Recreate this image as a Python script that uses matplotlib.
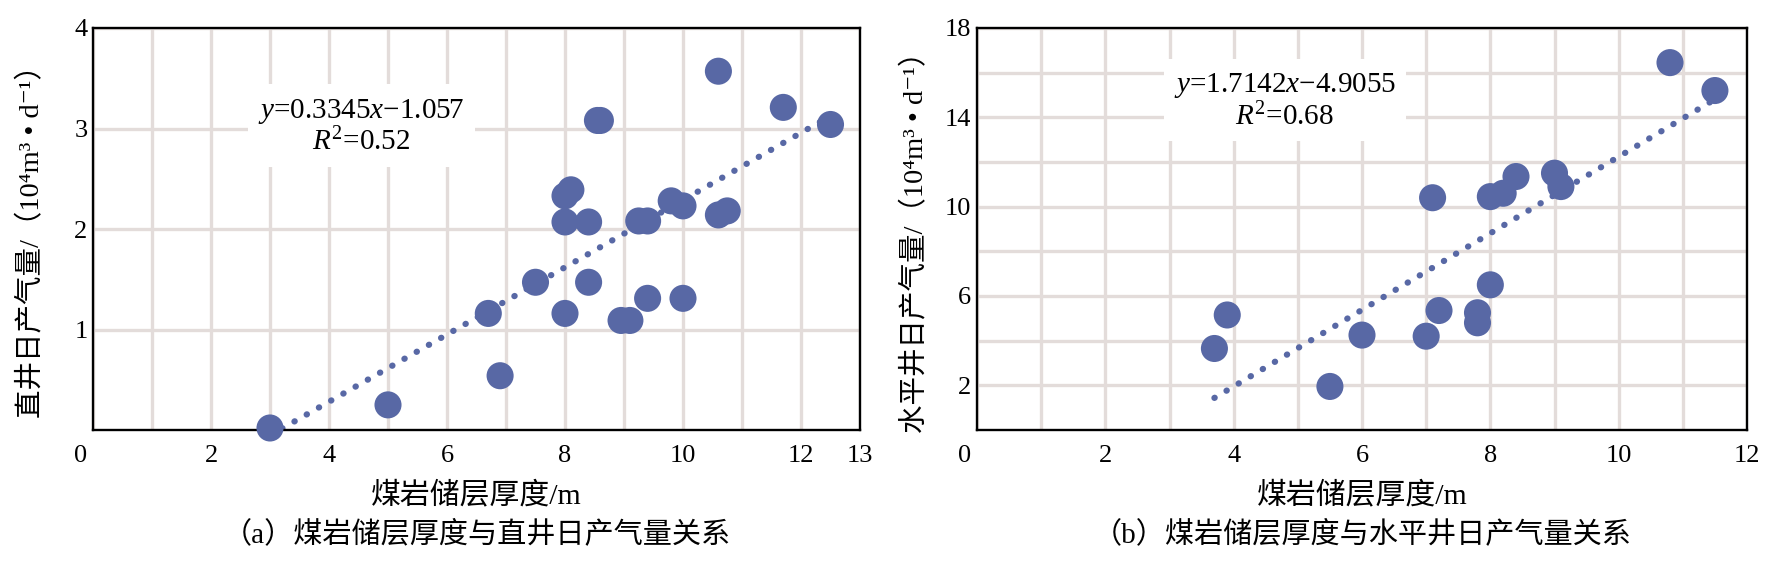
import numpy as np
import matplotlib
matplotlib.use('Agg')
import matplotlib.pyplot as plt
from matplotlib.ticker import FixedLocator
from matplotlib.transforms import ScaledTranslation

plt.rcParams['font.family'] = ['Liberation Serif', 'Noto Sans CJK SC', 'DejaVu Sans']
plt.rcParams['mathtext.fontset'] = 'custom'
plt.rcParams['mathtext.rm'] = 'Liberation Serif'
plt.rcParams['mathtext.it'] = 'Liberation Serif:italic'

# --- (a) vertical wells ---
thick_a = [3.0, 5.0, 6.7, 6.9, 7.5, 8.0, 8.0, 8.0, 8.1, 8.4, 8.4, 8.55, 8.6,
           8.95, 9.1, 9.25, 9.4, 9.4, 9.8, 10.0, 10.0, 10.6, 10.6, 10.75, 11.7, 12.5]
gas_a = [0.02, 0.25, 1.16, 0.54, 1.47, 1.16, 2.07, 2.33, 2.39, 2.07, 1.47, 3.08, 3.08,
         1.09, 1.09, 2.08, 2.08, 1.31, 2.28, 2.23, 1.31, 3.57, 2.14, 2.18, 3.21, 3.04]
fit_a = (0.3345, -1.057)
eq_a = "$y$=0.3345$x$−1.057\n$R^2$=0.52"

# --- (b) horizontal wells ---
thick_b = [3.7, 3.9, 5.5, 6.0, 7.0, 7.1, 7.2, 7.8, 7.8, 8.0, 8.0, 8.2, 8.4,
           9.0, 9.1, 10.8, 11.5]
gas_b = [3.65, 5.15, 1.95, 4.25, 4.2, 10.4, 5.35, 5.25, 4.8, 6.5, 10.45, 10.6, 11.35,
         11.5, 10.9, 16.45, 15.2]
fit_b = (1.7142, -4.9055)
eq_b = "$y$=1.7142$x$−4.9055\n$R^2$=0.68"

xlabel = "煤岩储层厚度/m"
ylabel_a = "直井日产气量/（10⁴m³ • d⁻¹）"
ylabel_b = "水平井日产气量/（10⁴m³ • d⁻¹）"
caption_a = "（a）煤岩储层厚度与直井日产气量关系"
caption_b = "（b）煤岩储层厚度与水平井日产气量关系"

dot_color = '#5868a5'
grid_color = '#e3dcda'

fig = plt.figure(figsize=(17.7, 5.67), dpi=100)
ax1 = fig.add_axes([93 / 1770, 137 / 567, 767 / 1770, 402 / 567])
ax2 = fig.add_axes([977 / 1770, 137 / 567, 770 / 1770, 402 / 567])


def draw_panel(ax, xs, ys, fit, eq, eq_pos, xmax, ymax, xmajor, xminor, ymajor, yminor,
               ylabel, caption):
    ax.set_xlim(0, xmax)
    ax.set_ylim(0, ymax)
    ax.xaxis.set_major_locator(FixedLocator(xmajor))
    ax.xaxis.set_minor_locator(FixedLocator(xminor))
    ax.yaxis.set_major_locator(FixedLocator(ymajor))
    ax.yaxis.set_minor_locator(FixedLocator(yminor))
    ax.set_xticklabels([f"{v:g}" for v in xmajor])
    ax.set_yticklabels([f"{v:g}" for v in ymajor])
    ax.grid(which='both', color=grid_color, lw=2.4)
    ax.set_axisbelow(True)
    ax.tick_params(which='both', length=0, labelsize=19)
    ax.tick_params(axis='x', pad=11)
    ax.tick_params(axis='y', pad=4)
    for s in ax.spines.values():
        s.set_linewidth(1.7)
        s.set_color('black')

    # shift the origin "0" a bit to the left
    t0 = ax.xaxis.get_major_ticks()[0].label1
    t0.set_transform(t0.get_transform() + ScaledTranslation(-0.12, 0, fig.dpi_scale_trans))

    xs = np.asarray(xs)
    xl = np.linspace(xs.min(), xs.max(), 200)
    ax.plot(xl, fit[0] * xl + fit[1], color=dot_color, lw=4.5,
            dashes=(0.05, 2.2), dash_capstyle='round', zorder=2)
    ax.scatter(xs, ys, s=380, color=dot_color, edgecolors='none', zorder=3, clip_on=False)

    ax.text(eq_pos[0], eq_pos[1], eq, ha='center', va='center', fontsize=21,
            multialignment='center', linespacing=1.1, zorder=4,
            bbox=dict(boxstyle='square,pad=0.35', fc='white', ec='none'))

    ax.set_xlabel(xlabel, fontsize=21.5)
    ax.xaxis.set_label_coords(0.5, -0.128)
    ax.set_ylabel(ylabel, fontsize=20.5)
    ax.yaxis.set_label_coords(-0.062, 0.485)
    ax.text(0.5, -0.225, caption, transform=ax.transAxes, ha='center', va='top',
            fontsize=21)


draw_panel(ax1, thick_a, gas_a, fit_a, eq_a, (4.55, 3.02), 13, 4,
           [0, 2, 4, 6, 8, 10, 12, 13], list(range(1, 13)),
           [1, 2, 3, 4], [1, 2, 3], ylabel_a, caption_a)
draw_panel(ax2, thick_b, gas_b, fit_b, eq_b, (4.8, 14.73), 12, 18,
           [0, 2, 4, 6, 8, 10, 12], list(range(1, 12)),
           [2, 6, 10, 14, 18], [4, 8, 12, 16], ylabel_b, caption_b)

fig.savefig('out.png', dpi=100)
